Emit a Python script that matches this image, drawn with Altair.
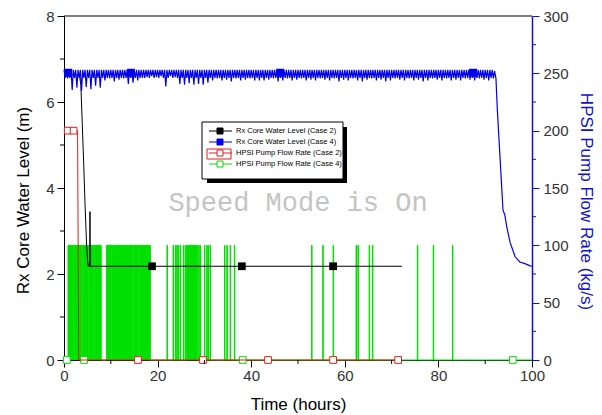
import altair as alt
import pandas as pd

# ---------------- data ----------------
# Rx core water level, case 2 (m)
black_t = [0, 3.3, 3.6, 3.9, 4.2, 4.5, 4.85, 5.05, 5.2, 5.5, 5.55, 5.6, 72.2]
black_v = [6.66, 6.62, 6.4, 5.5, 4.6, 3.6, 2.63, 2.3, 2.18, 2.18, 3.45, 2.18, 2.18]
black_mark_t = [18.8, 38.0, 57.5]
black_mark_v = [2.18, 2.18, 2.18]

# Rx core water level, case 4 (m): hourly band with dips, then final drop
blue_top = 6.75
blue_mid = 6.56
blue_dips = [6.55,
             6.28, 6.33, 6.26, 6.35, 6.30, 6.38, 6.33,
             6.50, 6.55, 6.48, 6.52, 6.55,
             6.42, 6.45, 6.50,
             6.56, 6.58, 6.60, 6.58, 6.60,
             6.36,
             6.60, 6.58,
             6.42, 6.40, 6.44, 6.40, 6.42, 6.40, 6.45,
             6.50, 6.55, 6.50, 6.52, 6.48, 6.55, 6.50, 6.52, 6.55, 6.50, 6.50,
             6.50, 6.52, 6.55, 6.48, 6.50, 6.55, 6.50, 6.52, 6.55, 6.50, 6.52, 6.50, 6.55,
             6.52, 6.50, 6.55, 6.48, 6.52, 6.50, 6.55, 6.50, 6.48, 6.52, 6.55, 6.50, 6.52,
             6.48, 6.50, 6.55, 6.52, 6.50, 6.55, 6.50, 6.52, 6.48, 6.50, 6.55, 6.52, 6.50,
             6.55, 6.50, 6.52, 6.50, 6.55, 6.52, 6.50, 6.55, 6.52, 6.50, 6.55]
blue_tail_t = [92.0, 92.3, 92.6, 93.2, 93.8, 94.2, 94.6, 95.3, 96.4, 97.4, 98.5, 99.6, 100.0]
blue_tail_v = [6.72, 6.55, 5.81, 4.65, 3.49, 3.37, 3.10, 2.74, 2.40, 2.28, 2.24, 2.19, 2.18]
blue_mark_t = [0.9, 14.3, 46.2, 87.4]
blue_mark_v = [6.68, 6.68, 6.68, 6.68]

# HPSI pump flow rate, case 2 (kg/s)
red_t = [0, 2.9, 3.15, 72.2]
red_v = [200, 200, 0, 0]
red_mark_t = [0.8, 2.05, 15.8, 29.7, 43.6, 57.5, 71.4]
red_mark_v = [200, 200, 0, 0, 0, 0, 0]

# HPSI pump flow rate, case 4 (kg/s): pump "on" intervals at 100 kg/s
green_level = 100
green_on = [0.85, 2.15, 4.0, 5.45, 6.45,
            9.05, 10.35, 14.95, 16.05,
            22.0, 23.3, 23.8, 24.1, 24.4, 24.8,
            25.5, 25.9, 26.2, 28.8, 29.1,
            30.0, 30.5, 30.8, 31.2,
            34.3, 34.8, 35.5, 36.4,
            52.9, 55.3, 57.5, 62.4, 62.8, 65.2, 65.9,
            75.5, 78.9, 83.0]
green_off = [2.0, 3.85, 5.3, 6.3, 7.95,
             10.2, 14.8, 15.9, 18.45,
             22.1, 23.4, 23.9, 24.2, 24.5, 24.9,
             25.6, 26.0, 28.6, 28.9, 29.2,
             30.1, 30.6, 30.9, 31.3,
             34.4, 34.9, 35.6, 36.5,
             53.0, 55.4, 57.6, 62.5, 62.9, 65.3, 66.0,
             75.6, 79.0, 83.1]
green_end = 100
green_mark_t = [0.6, 4.3, 38.2, 95.9]
green_mark_v = [0, 0, 0, 0]

# axes / text
x_ticks = [0, 20, 40, 60, 80, 100]
x_minor = [10, 30, 50, 70, 90]
left_ticks = [0, 2, 4, 6, 8]
left_minor = [1, 3, 5, 7]
right_ticks = [0, 50, 100, 150, 200, 250, 300]
right_minor = [25, 75, 125, 175, 225, 275]
legend_labels = ["Rx Core Water Level (Case 2)", "Rx Core Water Level (Case 4)",
                 "HPSI Pump Flow Rate (Case 2)", "HPSI Pump Flow Rate (Case 4)"]
watermark = "Speed Mode is On"

# ---------------- styling ----------------
BLACK = "#000000"
BLUE = "#0000EE"
AXBLUE = "#1010CC"
RED = "#DD2020"
GREEN = "#00E000"
FONT = "Liberation Sans"
W, H = 468, 344

# ---------------- tables ----------------
black_df = pd.DataFrame({"t": black_t, "v": black_v})
black_m_df = pd.DataFrame({"t": black_mark_t, "v": black_mark_v})
red_df = pd.DataFrame({"t": red_t, "v": red_v})
red_m_df = pd.DataFrame({"t": red_mark_t, "v": red_mark_v})
green_m_df = pd.DataFrame({"t": green_mark_t, "v": green_mark_v})
blue_m_df = pd.DataFrame({"t": blue_mark_t, "v": blue_mark_v})

g_rows = [(0, 0)]
for s, e in zip(green_on, green_off):
    g_rows += [(s, 0), (s, green_level), (e, green_level), (e, 0)]
g_rows.append((green_end, 0))
green_df = pd.DataFrame(g_rows, columns=["t", "v"])
green_df["i"] = range(len(green_df))
green_blocks = pd.DataFrame({"t": green_on, "t2": green_off,
                             "v": [green_level] * len(green_on),
                             "v2": [0] * len(green_on)})

b_rows = []
for h, d in enumerate(blue_dips):
    b_rows += [(h, blue_top), (h + 0.25, blue_mid), (h + 0.5, blue_top), (h + 0.75, d)]
b_rows += list(zip(blue_tail_t, blue_tail_v))
blue_df = pd.DataFrame(b_rows, columns=["t", "v"])
blue_df["i"] = range(len(blue_df))

legend_df = pd.DataFrame({"row": [0, 1, 2, 3], "label": legend_labels})
one = pd.DataFrame({"a": [0]})

# ---------------- scales / axes ----------------
xscale = alt.Scale(domain=[0, 100], nice=False, zero=False)
lscale = alt.Scale(domain=[0, 8], nice=False, zero=False)
rscale = alt.Scale(domain=[0, 300], nice=False, zero=False)

xaxis = alt.Axis(values=x_ticks, title="Time (hours)", tickSize=7, labelPadding=1,
                 labelFlush=False, grid=False, domainColor=BLACK, tickColor=BLACK,
                 labelColor="#333333", labelFontSize=15, titleFontSize=17,
                 titleFontWeight="normal", titleColor=BLACK, titleX=234, titleY=44,
                 titleBaseline="middle", titleAlign="center")
laxis = alt.Axis(values=left_ticks, title="Rx Core Water Level (m)", orient="left",
                 tickSize=7, labelPadding=3, grid=False, domainColor=BLACK,
                 tickColor=BLACK, labelColor="#333333", labelFontSize=15,
                 titleFontSize=17, titleFontWeight="normal", titleColor=BLACK,
                 titleAngle=270, titleX=-41, titleY=184, titleBaseline="middle",
                 titleAlign="center")
raxis = alt.Axis(values=right_ticks, title="HPSI Pump Flow Rate (kg/s)", orient="right",
                 tickSize=7, labelPadding=4, grid=False, domainColor=AXBLUE,
                 domainWidth=1.5, tickColor=AXBLUE, labelColor="#333333",
                 labelFontSize=15, titleFontSize=17, titleFontWeight="normal",
                 titleColor=AXBLUE, titleAngle=90, titleX=53, titleY=185,
                 titleBaseline="middle", titleAlign="center")


def X():
    return alt.X("t:Q", scale=xscale, axis=xaxis)


def YL(axis=None):
    return alt.Y("v:Q", scale=lscale, axis=axis, stack=None)


def YR(axis=None):
    return alt.Y("v:Q", scale=rscale, axis=axis, stack=None)


# ---------------- layers ----------------
green_fill = alt.Chart(green_blocks).mark_rect(color=GREEN, opacity=1).encode(
    x=X(), x2="t2:Q", y=YR(), y2="v2:Q")
green_line = alt.Chart(green_df).mark_line(color=GREEN, strokeWidth=1).encode(
    x=X(), y=YR(), order="i:Q")
green_pts = alt.Chart(green_m_df).mark_point(
    shape="square", filled=True, fill="white", stroke=GREEN, strokeWidth=1,
    size=45, opacity=1).encode(x=X(), y=YR())

red_line = alt.Chart(red_df).mark_line(color=RED, strokeWidth=1).encode(
    x=X(), y=YR(raxis))
red_pts = alt.Chart(red_m_df).mark_point(
    shape="square", filled=True, fill="white", stroke=RED, strokeWidth=1,
    size=45, opacity=1).encode(x=X(), y=YR())

black_line = alt.Chart(black_df).mark_line(color=BLACK, strokeWidth=1).encode(
    x=X(), y=YL(laxis))
black_pts = alt.Chart(black_m_df).mark_point(
    shape="square", filled=True, color=BLACK, size=60, opacity=1).encode(x=X(), y=YL())

blue_line = alt.Chart(blue_df).mark_line(color=BLUE, strokeWidth=1.2).encode(
    x=X(), y=YL(), order="i:Q")
blue_pts = alt.Chart(blue_m_df).mark_point(
    shape="square", filled=True, color=BLUE, size=64, opacity=1).encode(x=X(), y=YL())

# minor ticks
x_minor_r = alt.Chart(pd.DataFrame({"t": x_minor})).mark_rule(color=BLACK).encode(
    x=X(), y=alt.value(H), y2=alt.value(H + 4))
l_minor_r = alt.Chart(pd.DataFrame({"v": left_minor})).mark_rule(color=BLACK).encode(
    y=YL(), x=alt.value(-4), x2=alt.value(0))
r_minor_r = alt.Chart(pd.DataFrame({"v": right_minor})).mark_rule(color=AXBLUE).encode(
    y=YR(), x=alt.value(W), x2=alt.value(W + 4))
top_border = alt.Chart(one).mark_rule(color=BLACK, strokeWidth=1).encode(
    x=alt.value(0), x2=alt.value(W), y=alt.value(0))

wm = alt.Chart(pd.DataFrame({"s": [watermark]})).mark_text(
    font="Liberation Mono", fontSize=27, color="#C4C4C4", align="center",
    baseline="middle").encode(text="s:N", x=alt.value(234), y=alt.value(187))

# legend
lx0, lx1, ly0, ly1 = 138, 279, 106, 163
leg_shadow_b = alt.Chart(one).mark_rect(color=BLACK).encode(
    x=alt.value(lx0 + 5), x2=alt.value(lx1 + 4), y=alt.value(ly1), y2=alt.value(ly1 + 4))
leg_shadow_r = alt.Chart(one).mark_rect(color=BLACK).encode(
    x=alt.value(lx1), x2=alt.value(lx1 + 4), y=alt.value(ly0 + 5), y2=alt.value(ly1 + 4))
leg_box = alt.Chart(one).mark_rect(fill="white", stroke=BLACK, strokeWidth=1).encode(
    x=alt.value(lx0), x2=alt.value(lx1), y=alt.value(ly0), y2=alt.value(ly1))
leg_red_box = alt.Chart(one).mark_rect(fill="transparent", stroke=RED, strokeWidth=1).encode(
    x=alt.value(143), x2=alt.value(167), y=alt.value(133), y2=alt.value(143))

leg_y = alt.Y("row:Q", scale=alt.Scale(domain=[0, 3], range=[115, 148]), axis=None)
leg_stroke = alt.Stroke("label:N", scale=alt.Scale(domain=legend_labels,
                        range=[BLACK, BLUE, RED, GREEN]), legend=None)
leg_fill = alt.Fill("label:N", scale=alt.Scale(domain=legend_labels,
                    range=[BLACK, BLUE, "white", "white"]), legend=None)
leg_lines = alt.Chart(legend_df).mark_rule(strokeWidth=1).encode(
    y=leg_y, x=alt.value(145), x2=alt.value(168), stroke=leg_stroke)
leg_pts = alt.Chart(legend_df).mark_point(shape="square", filled=True, size=36,
                                          opacity=1, strokeWidth=1).encode(
    y=leg_y, x=alt.value(156), stroke=leg_stroke, fill=leg_fill)
leg_text = alt.Chart(legend_df).mark_text(align="left", baseline="middle", fontSize=7.5,
                                          font=FONT, color=BLACK).encode(
    y=leg_y, x=alt.value(172), text="label:N")

chart = alt.layer(
    green_fill, green_line, green_pts,
    red_line, red_pts,
    black_line, black_pts,
    blue_line, blue_pts,
    x_minor_r, l_minor_r, r_minor_r, top_border,
    wm,
    leg_shadow_b, leg_shadow_r, leg_box, leg_red_box, leg_lines, leg_pts, leg_text,
).resolve_scale(y="independent").properties(
    width=W, height=H,
    autosize=alt.AutoSizeParams(type="none"),
    padding={"left": 56, "top": 8, "right": 62, "bottom": 53},
).configure_view(stroke="transparent").configure_axis(
    labelFont=FONT, titleFont=FONT
)

chart.save("out.html", embed_options={"renderer": "svg", "actions": False})
